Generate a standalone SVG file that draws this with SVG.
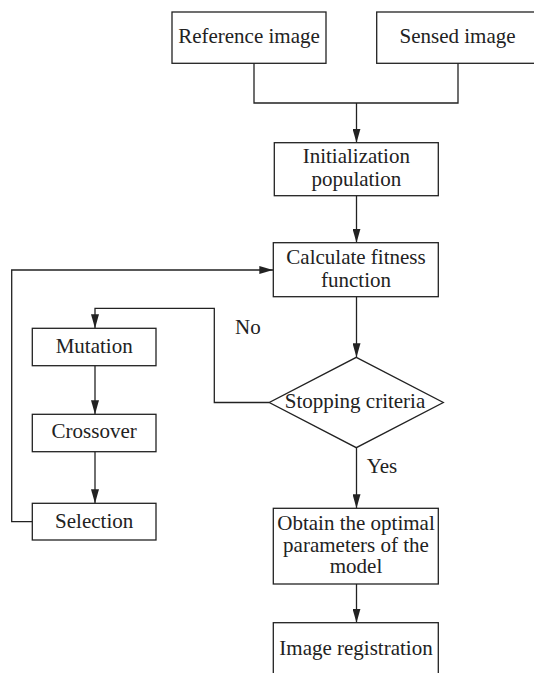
<svg xmlns="http://www.w3.org/2000/svg" width="534" height="673" viewBox="0 0 534 673">
<style>
.box{fill:#fff;stroke:#222;stroke-width:1.3}
.ln{fill:none;stroke:#222;stroke-width:1.3}
text{font-family:"Liberation Serif","Times New Roman",serif;font-size:21px;fill:#222}
.c{text-anchor:middle}
</style>
<defs>
<marker id="ah" viewBox="0 0 14 8" refX="14" refY="4" markerWidth="14" markerHeight="8" markerUnits="userSpaceOnUse" orient="auto">
<path d="M0,0 L14,4 L0,8 Z" fill="#222"/>
</marker>
</defs>
<rect width="534" height="673" fill="#fff"/>
<g id="connectors">
<path class="ln" d="M254,63 V103 H458 V63"/>
<path class="ln" d="M356.5,103 V142.7" marker-end="url(#ah)"/>
<path class="ln" d="M356.5,195.7 V242.7" marker-end="url(#ah)"/>
<path class="ln" d="M356.5,296.7 V357.3" marker-end="url(#ah)"/>
<path class="ln" d="M269.3,402.5 H214.3 V308.3 H95 V328.3" marker-end="url(#ah)"/>
<path class="ln" d="M95,365.7 V414.3" marker-end="url(#ah)"/>
<path class="ln" d="M95,451.7 V503.3" marker-end="url(#ah)"/>
<path class="ln" d="M32.3,521.7 H11.7 V270 H273.3" marker-end="url(#ah)"/>
<path class="ln" d="M356.5,447.7 V508.3" marker-end="url(#ah)"/>
<path class="ln" d="M356.5,584 V622.7" marker-end="url(#ah)"/>
<text x="235" y="334">No</text>
<text x="366.7" y="473.3">Yes</text>
</g>
<g id="reference">
<rect class="box" x="172" y="12" width="154" height="51.3"/>
<text class="c" x="249" y="43.3">Reference image</text>
</g>
<g id="sensed">
<rect class="box" x="376.7" y="12" width="170" height="51.3"/>
<text class="c" x="457.5" y="43.3">Sensed image</text>
</g>
<g id="init">
<rect class="box" x="274.3" y="142.7" width="164" height="53"/>
<text class="c" x="356.3" y="163.3">Initialization</text>
<text class="c" x="356.3" y="185.7">population</text>
</g>
<g id="calc">
<rect class="box" x="273.3" y="242.7" width="165" height="54"/>
<text class="c" x="356" y="264">Calculate fitness</text>
<text class="c" x="356" y="286.7">function</text>
</g>
<g id="mutation">
<rect class="box" x="32.3" y="328.3" width="123.7" height="37.4"/>
<text class="c" x="94.2" y="352.7">Mutation</text>
</g>
<g id="crossover">
<rect class="box" x="32.3" y="414.3" width="123.7" height="37.4"/>
<text class="c" x="94.2" y="438.3">Crossover</text>
</g>
<g id="selection">
<rect class="box" x="32.3" y="503.3" width="123.7" height="36.7"/>
<text class="c" x="94.2" y="528">Selection</text>
</g>
<g id="stopping">
<path class="box" d="M356.3,357.3 L443.3,402.5 L356.3,447.7 L269.3,402.5 Z"/>
<text class="c" x="355" y="408">Stopping criteria</text>
</g>
<g id="obtain">
<rect class="box" x="273.3" y="508.3" width="165" height="75.7"/>
<text class="c" x="356" y="530">Obtain the optimal</text>
<text class="c" x="356" y="551.7">parameters of the</text>
<text class="c" x="356" y="573.3">model</text>
</g>
<g id="registration">
<rect class="box" x="273.3" y="622.7" width="165" height="60"/>
<text class="c" x="356" y="655">Image registration</text>
</g>
</svg>
